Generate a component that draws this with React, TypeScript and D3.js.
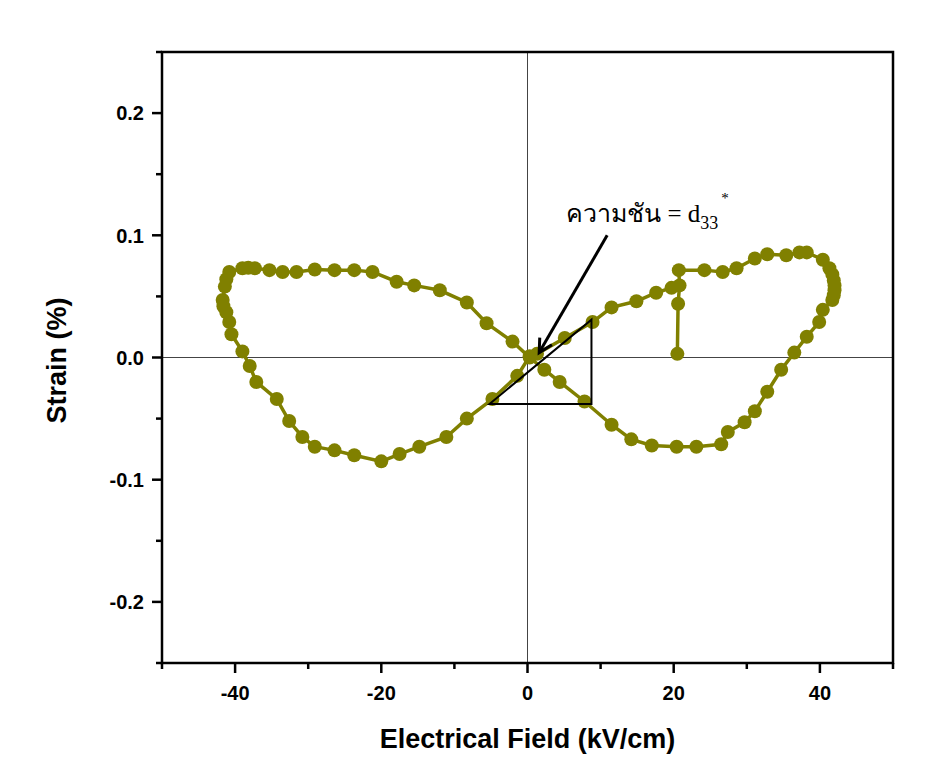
import React from "react";
import * as d3 from "d3";

// Electric field (kV/cm) and strain (%) along the measured loop, in order
const fieldValues: number[] = [
  20.5, 20.6, 20.8, 20.7,
  24.2, 26.7, 28.6, 31.1, 32.8, 35.4, 37.2, 38.2, 40.4, 41.3, 41.7, 41.9, 42.0, 42.0, 41.9, 41.7,
  40.4, 39.9, 38.2, 36.5, 34.7, 32.8, 31.1, 29.7, 27.4, 26.5,
  23.1, 20.4, 17.0, 14.2, 11.5, 7.8, 4.4, 2.3, 0.3,
  -2.05, -5.6, -8.3, -12.0, -15.5, -17.9, -21.2, -23.7, -26.4, -29.1, -31.6, -33.5, -35.3, -37.3, -38.2, -39.0, -40.8,
  -41.2, -41.4, -41.7, -41.6, -41.2, -40.8, -40.5, -39.0, -38.0, -37.1, -34.3, -32.6, -30.8, -29.1, -26.4, -23.7, -20.0,
  -17.5, -14.8, -11.1, -8.3, -4.8, -1.4, 0.3,
  1.3, 5.1, 8.9, 11.5, 14.9, 17.6, 19.7,
];
const strainValues: number[] = [
  0.003, 0.044, 0.059, 0.0715,
  0.0715, 0.070, 0.073, 0.081, 0.0845, 0.0837, 0.086, 0.086, 0.080, 0.073, 0.068, 0.063, 0.059, 0.055, 0.051, 0.047,
  0.039, 0.029, 0.017, 0.004, -0.010, -0.028, -0.044, -0.053, -0.061, -0.071,
  -0.073, -0.073, -0.072, -0.067, -0.055, -0.036, -0.020, -0.010, 0.0,
  0.013, 0.028, 0.045, 0.055, 0.059, 0.062, 0.070, 0.0715, 0.0715, 0.072, 0.070, 0.070, 0.0715, 0.073, 0.0735, 0.073, 0.070,
  0.064, 0.058, 0.047, 0.042, 0.037, 0.029, 0.019, 0.005, -0.007, -0.020, -0.034, -0.052, -0.065, -0.073, -0.076, -0.080, -0.085,
  -0.079, -0.073, -0.065, -0.050, -0.034, -0.015, 0.001,
  0.003, 0.016, 0.029, 0.041, 0.046, 0.053, 0.057,
];

const xMajorTicks = [-40, -20, 0, 20, 40];
const xMinorTicks = [-50, -30, -10, 10, 30, 50];
const yMajorTicks = [-0.2, -0.1, 0.0, 0.1, 0.2];
const yMinorTicks = [-0.25, -0.15, -0.05, 0.05, 0.15, 0.25];
const xTickLabels = ["-40", "-20", "0", "20", "40"];
const yTickLabels = ["-0.2", "-0.1", "0.0", "0.1", "0.2"];

// slope triangle (data units): left-bottom, right-top
const triangleX = [-5.2, 8.75];
const triangleY = [-0.038, 0.031];
// arrow tail and head (data units)
const arrowX = [10.9, 1.6];
const arrowY = [0.1, 0.004];
// annotation anchor
const labelX = 5.3;
const labelY = 0.1106;

const W = 927;
const H = 780;
const left = 162, right = 893, top = 52, bottom = 663;

export default function App() {
  const x = d3.scaleLinear().domain([-50, 50]).range([left, right]);
  const y = d3.scaleLinear().domain([-0.25, 0.25]).range([bottom, top]);
  const pts = fieldValues.map((f, i) => [f, strainValues[i]] as [number, number]);
  const line = d3
    .line<[number, number]>()
    .x((d) => x(d[0]))
    .y((d) => y(d[1]));

  const olive = "#808000";
  const tickFont = "Liberation Sans, Arial, sans-serif";

  // arrow head
  const hx = x(arrowX[1]), hy = y(arrowY[1]);
  const tx = x(arrowX[0]), ty = y(arrowY[0]);
  const ang = Math.atan2(ty - hy, tx - hx);
  const wl = 15, wa = (28 * Math.PI) / 180;
  const w1 = [hx + wl * Math.cos(ang + wa), hy + wl * Math.sin(ang + wa)];
  const w2 = [hx + wl * Math.cos(ang - wa), hy + wl * Math.sin(ang - wa)];

  const tri = `M${x(triangleX[0])},${y(triangleY[0])}L${x(triangleX[1])},${y(triangleY[1])}L${x(triangleX[1])},${y(triangleY[0])}Z`;

  return (
    <svg
      width={W}
      height={H}
      style={{ position: "absolute", left: 0, top: 0, background: "#fff" }}
    >
      <rect x={0} y={0} width={W} height={H} fill="#fff" />
      {/* zero lines */}
      <line x1={x(0)} x2={x(0)} y1={top} y2={bottom} stroke="#444" strokeWidth={1} />
      <line x1={left} x2={right} y1={y(0)} y2={y(0)} stroke="#444" strokeWidth={1} />

      {/* data */}
      <path d={line(pts) || ""} fill="none" stroke={olive} strokeWidth={3.5} />
      {pts.map((p, i) => (
        <circle key={i} cx={x(p[0])} cy={y(p[1])} r={7} fill={olive} />
      ))}

      {/* slope triangle */}
      <path d={tri} fill="none" stroke="#000" strokeWidth={2} />
      {/* arrow */}
      <line x1={tx} y1={ty} x2={hx} y2={hy} stroke="#000" strokeWidth={3} />
      <polyline
        points={`${w1[0]},${w1[1]} ${hx},${hy} ${w2[0]},${w2[1]}`}
        fill="none"
        stroke="#000"
        strokeWidth={3}
      />
      <text
        x={x(labelX)}
        y={y(labelY)}
        fontFamily="Liberation Serif, 'Times New Roman', serif"
        fontSize={25}
        fill="#000"
      >
        ความชัน = d
        <tspan fontSize={18} dy={7}>33</tspan>
        <tspan fontSize={15} dy={-26} dx={3}>*</tspan>
      </text>

      {/* frame */}
      <rect
        x={left}
        y={top}
        width={right - left}
        height={bottom - top}
        fill="none"
        stroke="#000"
        strokeWidth={2.5}
      />

      {/* x ticks */}
      {xMajorTicks.map((t, i) => (
        <g key={"xm" + i}>
          <line x1={x(t)} x2={x(t)} y1={bottom} y2={bottom + 10} stroke="#000" strokeWidth={2.5} />
          <text
            x={x(t)}
            y={700}
            textAnchor="middle"
            fontFamily={tickFont}
            fontWeight="bold"
            fontSize={20}
          >
            {xTickLabels[i]}
          </text>
        </g>
      ))}
      {xMinorTicks.map((t, i) => (
        <line key={"xn" + i} x1={x(t)} x2={x(t)} y1={bottom} y2={bottom + 6} stroke="#000" strokeWidth={2.5} />
      ))}

      {/* y ticks */}
      {yMajorTicks.map((t, i) => (
        <g key={"ym" + i}>
          <line x1={left - 10} x2={left} y1={y(t)} y2={y(t)} stroke="#000" strokeWidth={2.5} />
          <text
            x={left - 18}
            y={y(t)}
            dy="0.36em"
            textAnchor="end"
            fontFamily={tickFont}
            fontWeight="bold"
            fontSize={20}
          >
            {yTickLabels[i]}
          </text>
        </g>
      ))}
      {yMinorTicks.map((t, i) => (
        <line key={"yn" + i} x1={left - 6} x2={left} y1={y(t)} y2={y(t)} stroke="#000" strokeWidth={2.5} />
      ))}

      {/* axis titles */}
      <text
        x={(left + right) / 2}
        y={748}
        textAnchor="middle"
        fontFamily={tickFont}
        fontWeight="bold"
        fontSize={27}
      >
        Electrical Field (kV/cm)
      </text>
      <text
        transform={`translate(66,${(top + bottom) / 2 + 3}) rotate(-90)`}
        textAnchor="middle"
        fontFamily={tickFont}
        fontWeight="bold"
        fontSize={27}
      >
        Strain (%)
      </text>
    </svg>
  );
}
